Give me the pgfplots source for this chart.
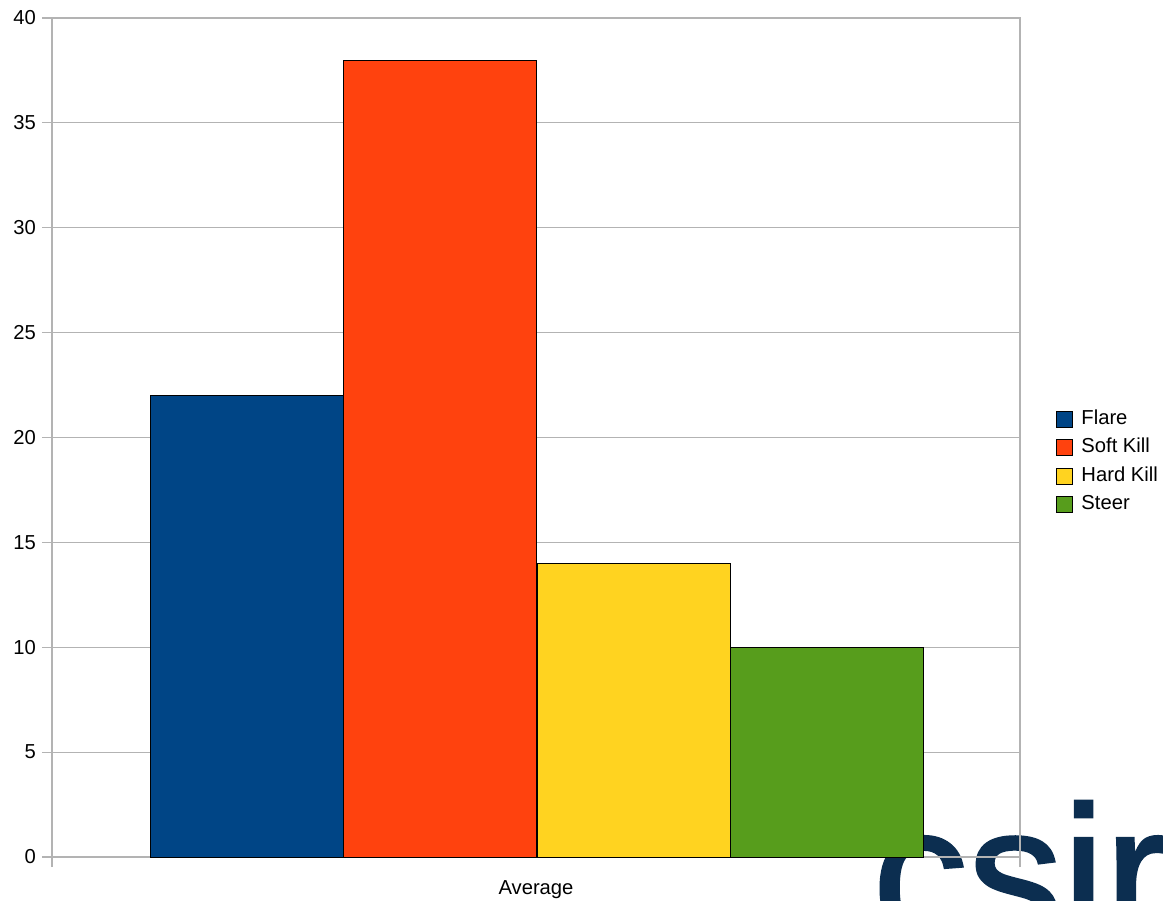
\documentclass[border=0pt]{standalone}
\usepackage{pgfplots}
\pgfplotsset{compat=1.18}
\usepackage{fontspec}
\setmainfont{Liberation Sans}
\newfontfamily\logofont{Liberation Sans}[FakeBold=1.5]
\definecolor{flare}{HTML}{004586}
\definecolor{softkill}{HTML}{FF420E}
\definecolor{hardkill}{HTML}{FFD320}
\definecolor{steer}{HTML}{579D1C}
\definecolor{gridgray}{HTML}{B3B3B3}
\definecolor{logoblue}{HTML}{0C2E50}
\begin{document}
\begin{tikzpicture}
\clip (0,0) rectangle (23.26,18);
% logo in the lower right corner
\node[anchor=base west, inner sep=0pt, text=logoblue,
      font=\logofont\fontsize{108}{108}\selectfont] at (17.45cm,-0.77cm) {csir};
\begin{axis}[
  at={(1.04cm,0.86cm)}, anchor=south west,
  width=19.36cm, height=16.78cm, scale only axis,
  xmin=0, xmax=968, ymin=0, ymax=40,
  ytick={0,5,...,40},
  xtick={0,968}, xticklabels={},
  ymajorgrids,
  grid style={color=gridgray, line width=0.6pt},
  axis line style={gridgray, line width=0.6pt},
  tick style={gridgray, line width=0.6pt},
  major tick length=0.2cm,
  tick align=outside,
  ytick pos=left, xtick pos=bottom,
  font=\fontsize{11.5}{13}\selectfont,
  /pgf/number format/assume math mode=true,
  xlabel={Average},
  xlabel style={at={(axis description cs:0.5,0)}, anchor=center, yshift=-0.65cm},
  legend image code/.code={\draw[#1, draw=black, line width=0.4pt] (0cm,-0.16cm) rectangle (0.32cm,0.16cm);\path (0.5cm,0cm);},
  legend style={at={(1.031,0.471)}, anchor=west, draw=none, fill=none,
    font=\fontsize{11.5}{13}\selectfont, row sep=5.2pt,
    nodes={inner sep=0pt, text height=8.5pt, text depth=2.5pt}},
  legend cell align=left,
]
\addplot[ybar, bar shift=0pt, bar width=193, fill=flare, draw=black, line width=0.5pt] coordinates {(194.5,22)};
\addlegendentry{Flare}
\addplot[ybar, bar shift=0pt, bar width=193, fill=softkill, draw=black, line width=0.5pt] coordinates {(388,38)};
\addlegendentry{Soft Kill}
\addplot[ybar, bar shift=0pt, bar width=193, fill=hardkill, draw=black, line width=0.5pt] coordinates {(581.5,14)};
\addlegendentry{Hard Kill}
\addplot[ybar, bar shift=0pt, bar width=193, fill=steer, draw=black, line width=0.5pt] coordinates {(774.5,10)};
\addlegendentry{Steer}
\end{axis}
\end{tikzpicture}
\end{document}
